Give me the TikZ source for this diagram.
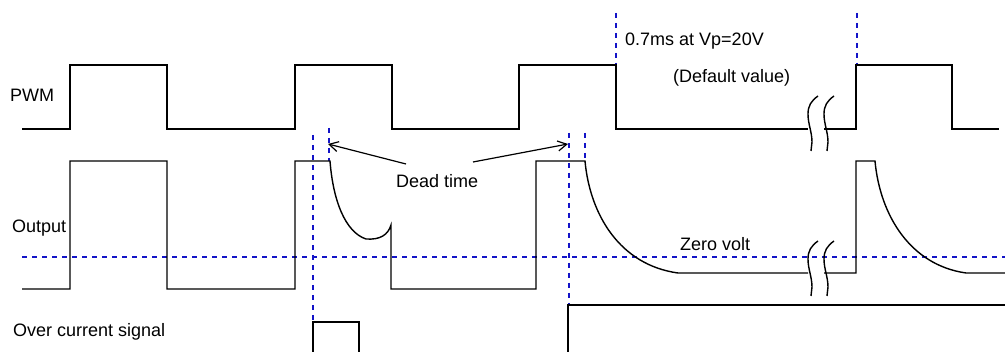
\documentclass[tikz,border=0pt]{standalone}
\usepackage{fontspec}
\setmainfont{Liberation Sans}
\usetikzlibrary{arrows.meta}
\definecolor{dashblue}{RGB}{20,20,200}
\tikzset{
  wave/.style={line width=1.4pt, black, line join=miter},
  marker/.style={line width=1.4pt, dashblue, dash pattern=on 5pt off 5pt},
  lbl/.style={font=\fontsize{18}{20}\selectfont, inner sep=0pt, anchor=base west},
  arr/.style={line width=1.2pt, -{Straight Barb[length=9pt,width=10pt,line width=1.2pt]}},
}
\newcommand\brkmark[2]{%
  \draw[line width=1.4pt] (#1+10,#2) .. controls (#1+3,#2+5) and (#1,#2+10) .. (#1,#2+18)
     .. controls (#1,#2+28) and (#1+4,#2+36) .. (#1+4,#2+46) -- (#1+3,#2+55);}
\begin{document}
\begin{tikzpicture}[x=1pt,y=-1pt]
\useasboundingbox (0,0) rectangle (1005,352);
% labels
\node[lbl] (pwm) at (10,102) {PWM};
\node[lbl] (out) at (12,233) {Output};
\node[lbl] (oc) at (13,337) {Over current signal};
\node[lbl] (t1) at (625,46) {0.7ms at Vp=20V};
\node[lbl] (t2) at (673,83) {(Default value)};
\node[lbl] (dt) at (396,188) {Dead time};
\node[lbl] (zv) at (680,251) {Zero volt};
% zero volt line
\draw[marker] (22,257) -- (1005,257);
% vertical markers
\draw[marker] (616,13) -- (616,65);
\draw[marker] (857,13) -- (857,65);
\draw[marker] (313,135) -- (313,322);
\draw[marker] (329,128) -- (329,161);
\draw[marker] (569,133) -- (569,305);
\draw[marker] (585,133) -- (585,161);
% PWM
\draw[wave] (22,129) -- (70,129) -- (70,65) -- (167,65) -- (167,129) -- (295,129) -- (295,65)
  -- (392,65) -- (392,129) -- (519,129) -- (519,65) -- (616,65) -- (616,129) -- (808,129);
\draw[wave] (824,129) -- (856,129) -- (856,65) -- (952,65) -- (952,129) -- (999,129);
% Output
\draw[wave] (22,289) -- (70,289) -- (70,161) -- (167,161) -- (167,289) -- (295,289) -- (295,161)
  -- (330,161) .. controls (333,200) and (345,232) .. (366,239)
  .. controls (380,240) and (388,235) .. (391,225) -- (391,289) -- (536,289) -- (536,161)
  -- (585,161) .. controls (590,215) and (620,265) .. (678,273) -- (808,273);
\draw[wave] (824,273) -- (856,273) -- (856,161) -- (875,161)
  .. controls (880,215) and (910,265) .. (966,273) -- (1005,273);
% Over current signal
\draw[wave] (313,352) -- (313,322) -- (359,322) -- (359,352);
\draw[wave] (568,352) -- (568,305) -- (1005,305);
% break marks
\brkmark{808}{96}
\brkmark{824}{96}
\brkmark{808}{241}
\brkmark{824}{241}
% dead time arrows
\coordinate (dtl) at (406,164);
\coordinate (dtr) at (473,162);
\coordinate (tipl) at (328,144);
\coordinate (tipr) at (568,144);
\draw[arr] (dtl) -- (tipl);
\draw[arr] (dtr) -- (tipr);
\end{tikzpicture}
\end{document}
